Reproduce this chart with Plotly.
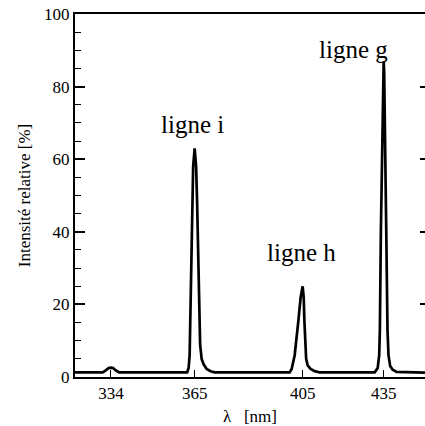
import plotly.graph_objects as go

# Spectrum: wavelength (nm) and relative intensity (%)
wavelength_nm = [
    320.7, 331.0, 332.2, 333.2, 334.0, 334.8, 335.8, 337.0,
    362.23, 362.78, 363.15, 363.34, 363.71, 364.08, 364.45, 365.0,
    365.55, 365.92, 366.29, 366.66, 367.03, 367.59, 368.33, 369.44, 370.92, 372.40,
    400.19, 400.93, 402.04, 403.34, 404.26, 405.0,
    405.37, 405.67, 405.92, 406.29, 406.85, 407.96, 409.44, 411.29,
    431.67, 432.78, 433.34, 433.59, 433.96, 434.45, 434.82, 435.0,
    435.18, 435.55, 435.96, 436.41, 436.78, 437.40, 438.33, 439.81,
    450.3,
]
intensity_pct = [
    1.3, 1.3, 1.9, 2.5, 2.6, 2.5, 1.8, 1.3,
    1.3, 2.5, 6.0, 15.0, 35.0, 50.0, 58.0, 63.0,
    58.0, 48.0, 33.0, 18.0, 9.0, 5.0, 3.5, 2.2, 1.6, 1.3,
    1.3, 2.2, 6.0, 15.0, 22.0, 25.0,
    22.0, 15.0, 8.0, 5.0, 3.2, 2.2, 1.6, 1.3,
    1.3, 2.5, 6.0, 13.0, 40.0, 68.0, 84.0, 87.0,
    84.0, 68.0, 40.0, 13.0, 6.0, 3.0, 2.0, 1.4,
    1.2,
]

x_tick_vals = [334, 365, 405, 435]
x_tick_text = ["334", "365", "405", "435"]
y_tick_vals = [0, 20, 40, 60, 80, 100]

line_labels = ["ligne i", "ligne h", "ligne g"]
label_x_nm = [364.3, 404.4, 424.0]
label_y_pct = [69.5, 34.2, 90.2]

X_RANGE = [320.7, 450.3]
Y_RANGE = [0, 100]

SERIF = "Liberation Serif, Times New Roman, Times, serif"

fig = go.Figure()
fig.add_trace(go.Scatter(
    x=wavelength_nm, y=intensity_pct, mode="lines",
    line=dict(color="black", width=2.7),
    showlegend=False, hoverinfo="skip",
))
# invisible copy on a right-hand axis so its short inner ticks get drawn
fig.add_trace(go.Scatter(
    x=wavelength_nm, y=intensity_pct, mode="lines", yaxis="y2",
    line=dict(color="rgba(0,0,0,0)", width=0),
    showlegend=False, hoverinfo="skip",
))

for txt, xv, yv in zip(line_labels, label_x_nm, label_y_pct):
    fig.add_annotation(x=xv, y=yv, text=txt, showarrow=False,
                       xanchor="center", yanchor="middle",
                       font=dict(family=SERIF, size=25, color="black"))

fig.update_layout(
    width=425, height=426,
    margin=dict(l=74.5, r=0, t=14, b=48.5),
    paper_bgcolor="white", plot_bgcolor="white",
    font=dict(family=SERIF, color="black"),
    xaxis=dict(
        range=X_RANGE, tickvals=x_tick_vals, ticktext=x_tick_text,
        ticks="inside", ticklen=7, tickwidth=1.2, tickcolor="black",
        showline=True, linecolor="black", linewidth=2, mirror=True,
        showgrid=False, zeroline=False,
        tickfont=dict(family=SERIF, size=17, color="black"),
        title=dict(text="λ\u00a0\u00a0\u00a0[nm]", standoff=10,
                   font=dict(family=SERIF, size=17, color="black")),
    ),
    yaxis=dict(
        range=Y_RANGE, tickvals=y_tick_vals,
        ticks="inside", ticklen=10, tickwidth=1.5, tickcolor="black",
        minor=dict(dtick=5, ticks="inside", ticklen=6, tickwidth=1.2, tickcolor="black"),
        showline=True, linecolor="black", linewidth=2,
        showgrid=False, zeroline=False,
        tickfont=dict(family=SERIF, size=17, color="black"),
        title=dict(text="Intensité relative [%]", standoff=9,
                   font=dict(family=SERIF, size=17, color="black")),
    ),
    yaxis2=dict(
        range=Y_RANGE, tickvals=y_tick_vals, overlaying="y", side="right",
        ticks="inside", ticklen=5, tickwidth=1.5, tickcolor="black",
        showticklabels=False, showline=False, showgrid=False, zeroline=False,
    ),
)

fig.write_html("out.html")
